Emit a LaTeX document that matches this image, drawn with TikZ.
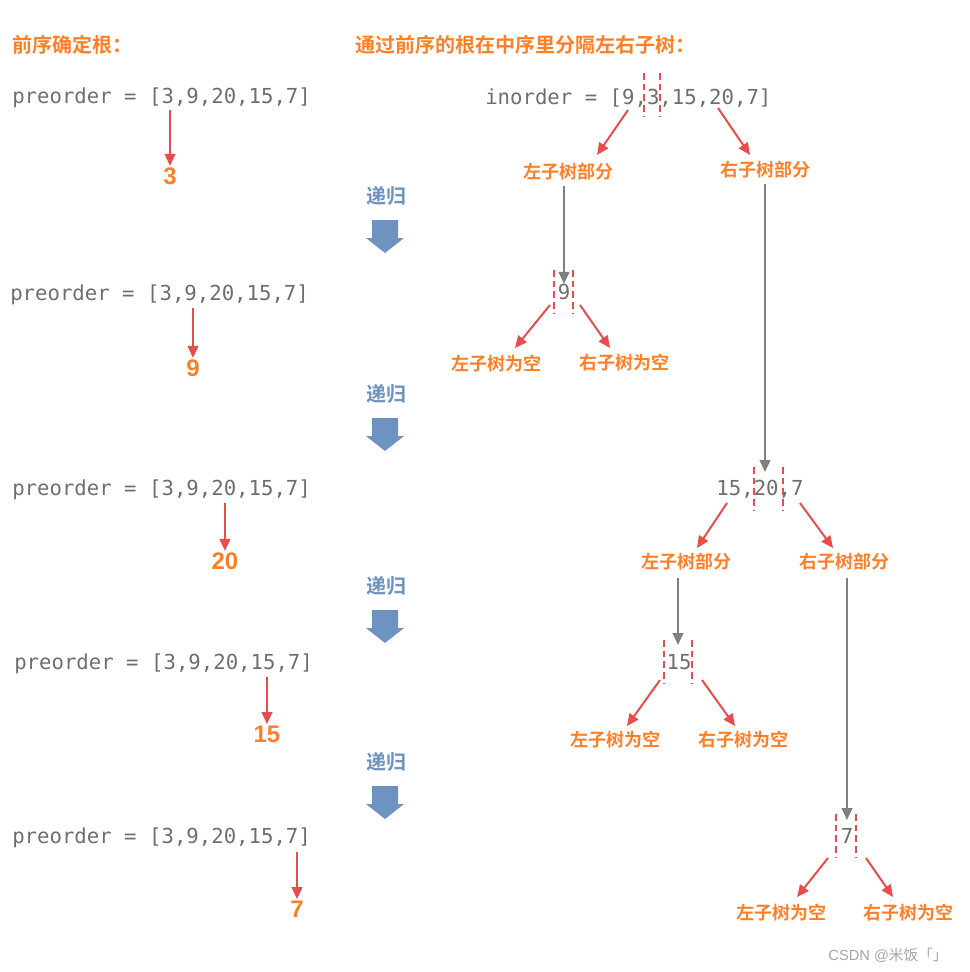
\documentclass[tikz,border=0pt]{standalone}
\usepackage{fontspec}
\setmonofont{DejaVu Sans Mono}
\newfontfamily\cjk{Noto Sans CJK SC Bold}
\setsansfont{Liberation Sans}
\usetikzlibrary{arrows.meta}
\definecolor{myred}{HTML}{E84C4C}
\definecolor{myorange}{HTML}{FF7F27}
\definecolor{myblue}{HTML}{6F93C1}
\definecolor{mygray}{HTML}{808080}
\definecolor{codegray}{HTML}{6E6E6E}
\tikzset{
  code/.style={anchor=west,inner sep=0pt,text=codegray,font=\fontsize{15.5}{18}\selectfont\ttfamily},
  title/.style={anchor=west,inner sep=0pt,text=myorange,font=\fontsize{15}{18}\selectfont\cjk},
  part/.style={inner sep=1pt,text=myorange,font=\fontsize{13.5}{16}\selectfont\cjk},
  num/.style={inner sep=1pt,text=myorange,font=\fontsize{18}{20}\selectfont\sffamily\bfseries},
  rec/.style={inner sep=0pt,text=myblue,font=\fontsize{15}{18}\selectfont\cjk},
  redarrow/.style={draw=myred,line width=1.5pt,-{Triangle[length=9pt,width=8pt]}},
  grayarrow/.style={draw=mygray,line width=1.5pt,-{Triangle[length=9pt,width=8pt]}},
  cut/.style={draw=myred,line width=1.2pt,dash pattern=on 5pt off 3pt},
}
\newcommand{\downblock}[2]{%
  \fill[myblue] (#1-13,#2) -- (#1+13,#2) -- (#1+13,#2+18) -- (#1+19,#2+18)
    -- (#1,#2+33) -- (#1-19,#2+18) -- (#1-13,#2+18) -- cycle;}
\begin{document}
\begin{tikzpicture}[x=0.75pt,y=-0.75pt]
\useasboundingbox (0,0) rectangle (970,972);

% left column
\node[title] (hl) at (12,45) {前序确定根：};
\node[code] (p1) at (12,98) {preorder = [3,9,20,15,7]};
\node[code] (p2) at (10,295) {preorder = [3,9,20,15,7]};
\node[code] (p3) at (12,490) {preorder = [3,9,20,15,7]};
\node[code] (p4) at (14,664) {preorder = [3,9,20,15,7]};
\node[code] (p5) at (12,838) {preorder = [3,9,20,15,7]};

\node[num] (n1) at (170,176) {3};
\node[num] (n2) at (193,368) {9};
\node[num] (n3) at (225,561) {20};
\node[num] (n4) at (267,734) {15};
\node[num] (n5) at (297,909) {7};
\coordinate (s1) at (170,110);
\coordinate (s2) at (193,308);
\coordinate (s3) at (225,503);
\coordinate (s4) at (267,677);
\coordinate (s5) at (297,852);
\foreach \i in {1,...,5}
  \draw[redarrow] (s\i) -- (n\i.north);

% recursion marks
\foreach \y [count=\i] in {196,394,586,762} {
  \node[rec] (r\i) at (386,\y) {递归};
  \downblock{385}{\y+24}
}

% right column
\node[title] (hr) at (355,45) {通过前序的根在中序里分隔左右子树：};
\node[code] (in) at (485,98) {inorder = [9,3,15,20,7]};
\draw[cut] (644,73) -- (644,117);
\draw[cut] (660,73) -- (660,117);

\node[part] (l1) at (568,172) {左子树部分};
\node[part] (r1) at (765,170) {右子树部分};
\coordinate (a1) at (628,110);
\coordinate (b1) at (718,108);
\draw[redarrow] (a1) -- (597,155);
\draw[redarrow] (b1) -- (750,155);

% node 9
\node[code,anchor=center] (t9) at (564,292) {9};
\draw[cut] (554,270) -- (554,314);
\draw[cut] (573,270) -- (573,314);
\draw[grayarrow] (l1.south -| t9) ++(0,4) -- (t9.north);
\node[part] (l9) at (496,364) {左子树为空};
\node[part] (r9) at (624,363) {右子树为空};
\draw[redarrow] (550,305) -- (515,348);
\draw[redarrow] (580,305) -- (610,348);

% node 20
\node[code,anchor=center] (t20) at (760,489) {15,20,7};
\draw[cut] (754,467) -- (754,511);
\draw[cut] (783,467) -- (783,511);
\draw[grayarrow] (r1.south) ++(0,4) -- (765,472);
\node[part] (l20) at (686,562) {左子树部分};
\node[part] (r20) at (844,562) {右子树部分};
\draw[redarrow] (727,503) -- (697,548);
\draw[redarrow] (800,503) -- (833,548);

% node 15
\node[code,anchor=center] (t15) at (679,662) {15};
\draw[cut] (664,640) -- (664,684);
\draw[cut] (692,640) -- (692,684);
\draw[grayarrow] (678,578) -- (678,645);
\node[part] (l15) at (615,740) {左子树为空};
\node[part] (r15) at (743,740) {右子树为空};
\draw[redarrow] (660,680) -- (627,726);
\draw[redarrow] (702,680) -- (735,726);

% node 7
\node[code,anchor=center] (t7) at (847,836) {7};
\draw[cut] (836,814) -- (836,858);
\draw[cut] (856,814) -- (856,858);
\draw[grayarrow] (847,578) -- (847,820);
\node[part] (l7) at (781,913) {左子树为空};
\node[part] (r7) at (908,913) {右子树为空};
\draw[redarrow] (828,858) -- (797,897);
\draw[redarrow] (866,858) -- (893,897);

\node[inner sep=0pt,text=gray!70,font=\fontsize{11}{13}\selectfont\sffamily] (wm) at (888,955) {CSDN @{\cjk\addfontfeature{}}{\fontspec{Noto Sans CJK SC}米饭「」}};
\end{tikzpicture}
\end{document}
